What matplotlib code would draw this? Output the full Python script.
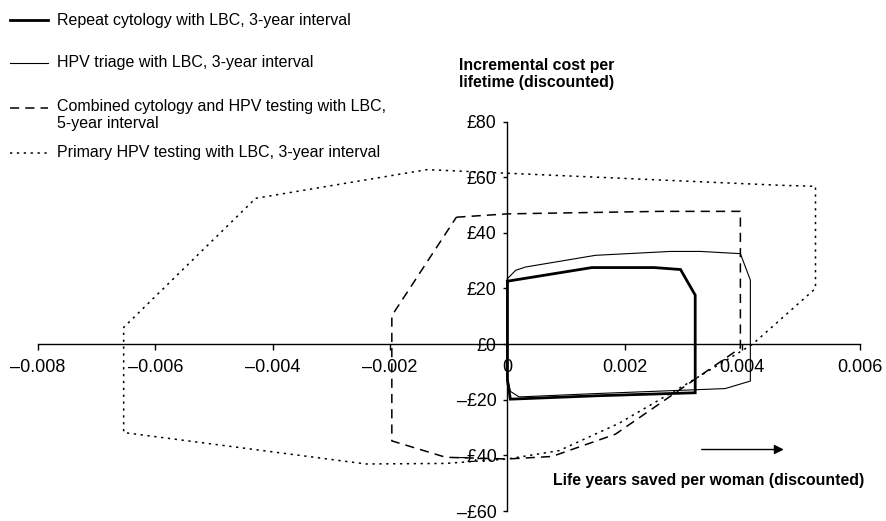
import matplotlib
matplotlib.use("Agg")
import matplotlib.pyplot as plt
from matplotlib.lines import Line2D

plt.rcParams['font.family'] = ['Liberation Sans', 'DejaVu Sans']

# ---- data ----
series_labels = [
    "Repeat cytology with LBC, 3-year interval",
    "HPV triage with LBC, 3-year interval",
    "Combined cytology and HPV testing with LBC,\n5-year interval",
    "Primary HPV testing with LBC, 3-year interval",
]

repeat_x = [0, 0.00144, 0.0025, 0.00295, 0.0032, 0.0032, 0.0015, 0.0003, 0.00005, 0, 0]
repeat_y = [22.6, 27.5, 27.5, 26.8, 17.6, -17.5, -18.6, -19.6, -19.8, -13, 22.6]

triage_x = [0, 0.00014, 0.00031, 0.0015, 0.00278, 0.00329, 0.00397, 0.00414, 0.00414,
            0.00371, 0.0015, 0.0002, 0.00005, 0, 0]
triage_y = [23.5, 26.5, 27.7, 31.9, 33.3, 33.3, 32.5, 23, -13.3,
            -16, -17.8, -19, -17, -12, 23.5]

combined_x = [-0.00087, 0, 0.0026, 0.00397, 0.00397, 0.0030, 0.00184, 0.00076, 0,
              -0.00105, -0.00197, -0.00197, -0.00087]
combined_y = [45.6, 46.8, 47.7, 47.7, -1.4, -15.5, -32.4, -40.4, -41.3,
              -40.7, -34.8, 10.2, 45.6]

primary_x = [-0.00429, -0.00137, 0, 0.00462, 0.00525, 0.00525, 0.00417, 0.0030, 0.0019,
             0.00088, 0, -0.00105, -0.00241, -0.00654, -0.00654, -0.00429]
primary_y = [52.4, 62.7, 61.4, 57.1, 56.7, 20, -0.2, -15, -28.5,
             -38.3, -41.3, -42.9, -43.1, -31.8, 6, 52.4]

x_ticks = [-0.008, -0.006, -0.004, -0.002, 0, 0.002, 0.004, 0.006]
x_tick_labels = ['\u20130.008', '\u20130.006', '\u20130.004', '\u20130.002', '0', '0.002', '0.004', '0.006']
y_ticks = [-60, -40, -20, 0, 20, 40, 60, 80]
y_tick_labels = ['\u2013\u00a360', '\u2013\u00a340', '\u2013\u00a320', '\u00a30', '\u00a320', '\u00a340', '\u00a360', '\u00a380']

# ---- figure ----
W, H = 887, 521
fig = plt.figure(figsize=(W / 100, H / 100), dpi=100)
ax = fig.add_axes([38 / W, (H - 511) / H, 821.5 / W, 389.5 / H])
ax.set_xlim(-0.008, 0.006)
ax.set_ylim(-60, 80)
ax.patch.set_alpha(0)

styles = [
    dict(color='black', lw=2.0, ls='-'),
    dict(color='black', lw=0.8, ls='-'),
    dict(color='black', lw=1.1, ls=(0, (6, 4))),
    dict(color='black', lw=1.1, ls=(0, (1.5, 3))),
]
data = [(repeat_x, repeat_y), (triage_x, triage_y), (combined_x, combined_y), (primary_x, primary_y)]
for (xs, ys), st in zip(data, styles):
    ax.plot(xs, ys, solid_joinstyle='miter', **st)

for s in ['top', 'right']:
    ax.spines[s].set_visible(False)
ax.spines['left'].set_position(('data', 0))
ax.spines['bottom'].set_position(('data', 0))
ax.spines['left'].set_linewidth(1.0)
ax.spines['bottom'].set_linewidth(1.0)

ax.set_xticks(x_ticks)
ax.set_xticklabels(x_tick_labels)
ax.set_yticks(y_ticks)
ax.set_yticklabels(y_tick_labels)
ax.tick_params(axis='x', direction='out', length=4, width=1.0, pad=7, labelsize=13)
ax.tick_params(axis='y', direction='out', length=3, width=1.0, pad=5, labelsize=12.8)

# arrow
ax.annotate('', xy=(0.00471, -37.9), xytext=(0.00331, -37.9),
            arrowprops=dict(arrowstyle='-|>', color='black', lw=1.0,
                            mutation_scale=14, shrinkA=0, shrinkB=0))

# axis titles
fig.text(459 / W, 1 - 74 / H, "Incremental cost per\nlifetime (discounted)",
         fontsize=11.4, fontweight='bold', ha='left', va='center', linespacing=1.2)
fig.text(553 / W, 1 - 480 / H, "Life years saved per woman (discounted)",
         fontsize=11.4, fontweight='bold', ha='left', va='center')

# legend (manual)
rows = [20, 63, 108, 153]
for lab, st, yy in zip(series_labels, styles, rows):
    yf = 1 - yy / H
    fig.add_artist(Line2D([10 / W, 48 / W], [yf, yf], transform=fig.transFigure,
                          color='black', lw=st['lw'], ls=st['ls']))
    if '\n' in lab:
        fig.text(57 / W, 1 - (yy - 9) / H, lab, fontsize=11.5, ha='left', va='top',
                 linespacing=1.2)
    else:
        fig.text(57 / W, yf, lab, fontsize=11.5, ha='left', va='center')

fig.savefig('out.png', dpi=100)
